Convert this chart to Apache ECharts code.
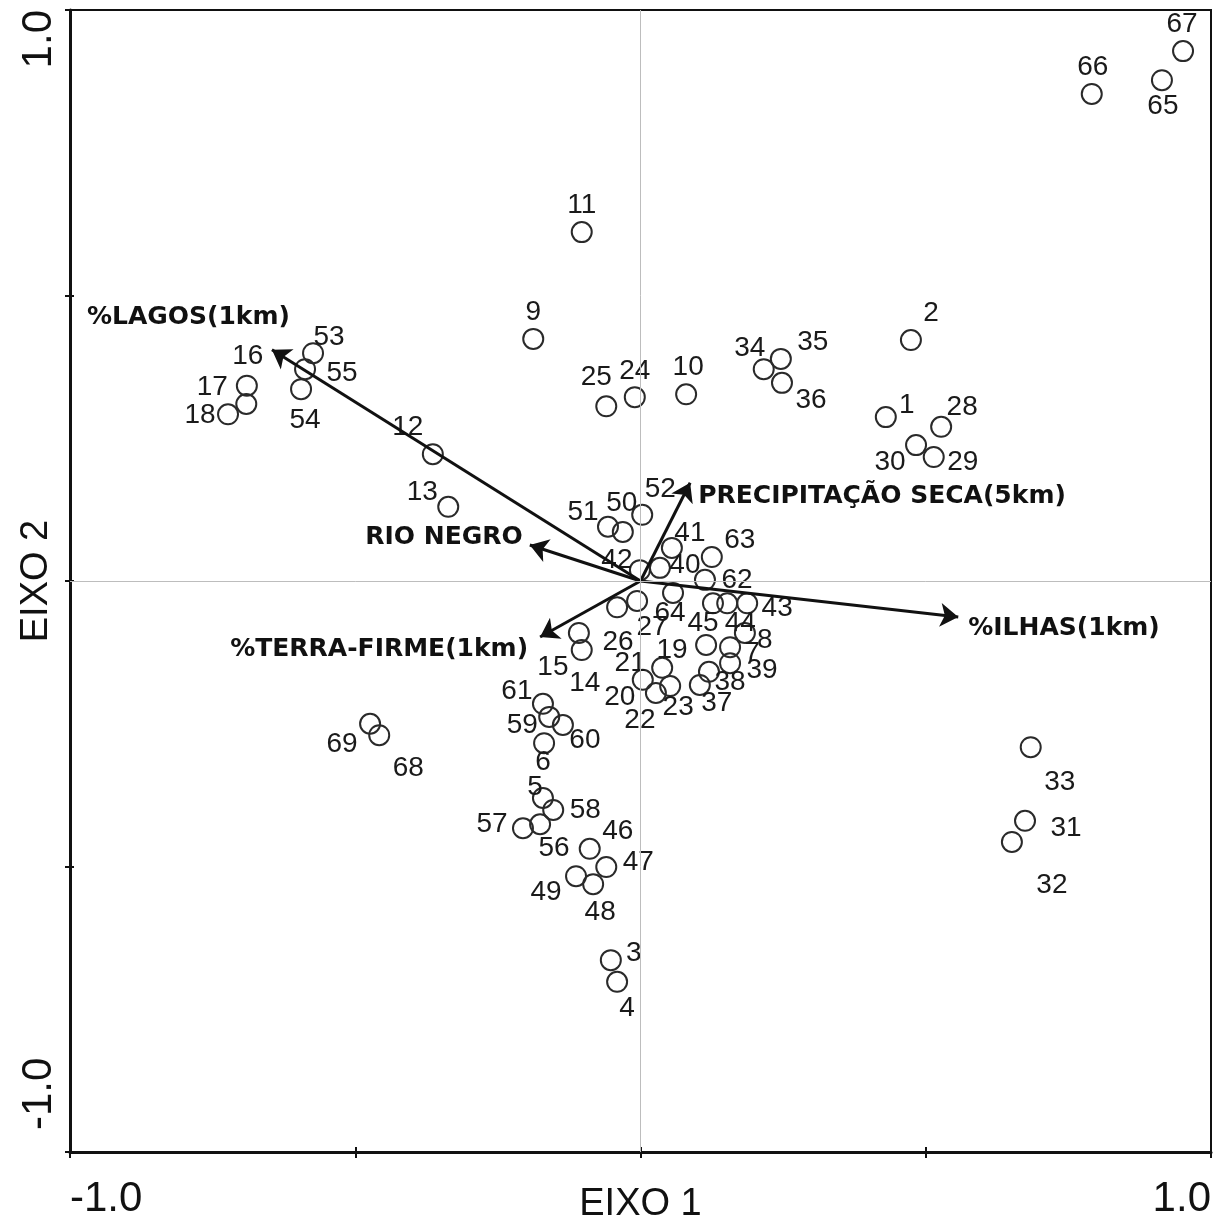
<!DOCTYPE html>
<html><head><meta charset="utf-8">
<script src="https://cdn.jsdelivr.net/npm/echarts@6/dist/echarts.min.js"></script>
<style>html,body{margin:0;padding:0;background:#fff}#chart{width:1228px;height:1230px}</style>
</head><body><div id="chart"></div>
<script>
// ---------- DATA ----------
const pointIds = [1,2,3,4,5,6,7,8,9,10,11,12,13,14,15,16,17,18,19,20,21,22,23,24,25,26,27,28,29,30,31,32,33,34,35,36,37,38,39,40,41,42,43,44,45,46,47,48,49,50,51,52,53,54,55,56,57,58,59,60,61,62,63,64,65,66,67,68,69];
const eixo1 = [0.430,0.474,-0.052,-0.041,-0.171,-0.169,0.157,0.183,-0.188,0.080,-0.103,-0.364,-0.337,-0.103,-0.108,-0.690,-0.691,-0.723,0.115,0.004,0.038,0.027,0.052,-0.010,-0.060,-0.041,-0.006,0.527,0.514,0.483,0.674,0.651,0.684,0.216,0.246,0.248,0.104,0.120,0.157,0.034,0.055,-0.001,0.187,0.152,0.127,-0.089,-0.060,-0.083,-0.113,-0.031,-0.057,0.003,-0.574,-0.595,-0.588,-0.176,-0.206,-0.153,-0.160,-0.136,-0.171,0.113,0.125,0.057,0.914,0.791,0.951,-0.458,-0.474];
const eixo2 = [0.287,0.422,-0.664,-0.702,-0.380,-0.284,-0.116,-0.091,0.424,0.327,0.611,0.222,0.130,-0.121,-0.091,0.342,0.310,0.292,-0.112,-0.173,-0.152,-0.196,-0.184,0.322,0.306,-0.046,-0.035,0.270,0.217,0.238,-0.420,-0.457,-0.291,0.371,0.389,0.347,-0.182,-0.159,-0.144,0.023,0.058,0.019,-0.039,-0.039,-0.039,-0.469,-0.501,-0.531,-0.517,0.086,0.095,0.116,0.399,0.336,0.371,-0.426,-0.433,-0.401,-0.238,-0.252,-0.215,0.002,0.042,-0.021,0.877,0.853,0.928,-0.270,-0.250];

const variableNames = ['%LAGOS(1km)','RIO NEGRO','%TERRA-FIRME(1km)','PRECIPITAÇÃO SECA(5km)','%ILHAS(1km)'];
const variableEixo1 = [-0.646,-0.194,-0.176,0.087,0.557];
const variableEixo2 = [0.405,0.063,-0.098,0.172,-0.063];

const tickValues = [-1,-0.5,0,0.5,1];
const tickLabels = ['-1.0','','','','1.0'];
const axisNames = ['EIXO 1','EIXO 2'];

// ---------- STYLE / PLACEMENT ----------
const labelOffsets = {
 1:[21,-12],2:[20,-27],3:[23,-7],4:[10,26],5:[-8,-11],6:[-1,19],7:[22,6],8:[20,7],9:[0,-27],10:[2,-27],
 11:[0,-27],12:[-25,-27],13:[-26,-14],14:[3,33],15:[-26,34],16:[1,-29],17:[-34,-17],18:[-28,1],19:[-34,5],20:[-23,17],
 21:[-32,-5],22:[-16,27],23:[8,21],24:[0,-26],25:[-10,-29],26:[1,35],27:[15,26],28:[21,-20],29:[29,5],30:[-26,17],
 31:[41,7],32:[40,43],33:[29,35],34:[-14,-21],35:[32,-17],36:[29,17],37:[17,18],38:[21,10],39:[32,7],40:[25,-3],
 41:[18,-15],42:[-23,-10],43:[30,5],44:[13,20],45:[-10,20],46:[28,-18],47:[32,-5],48:[7,28],49:[-30,16],50:[-1,-29],
 51:[-25,-14],52:[18,-25],53:[16,-16],54:[4,31],55:[37,4],56:[14,24],57:[-31,-4],58:[32,0],59:[-27,8],60:[22,15],
 61:[-26,-12],62:[32,0],63:[28,-17],64:[-3,20],65:[1,26],66:[1,-27],67:[-1,-27],68:[29,33],69:[-28,21]
};
const variableLabelPlacement = [
 {align:'right', offset:[18,-32]},
 {align:'right', offset:[-7,-8]},
 {align:'right', offset:[-12,13]},
 {align:'left', offset:[8,14]},
 {align:'left', offset:[10,12]}
];

const SANS = "'Liberation Sans',Arial,sans-serif";

function tickFmt(v){
  const i = tickValues.findIndex(t => Math.abs(t - v) < 1e-9);
  return i >= 0 ? tickLabels[i] : '';
}
function yTickFmt(v){
  const s = tickFmt(v);
  if (!s) return '';
  return v < 0 ? '{lo|' + s + '}' : '{hi|' + s + '}';
}

const axisBase = {
  type:'value', min:-1, max:1, interval:0.5,
  splitLine:{show:false}
};

const option = {
  animation:false,
  backgroundColor:'#fff',
  grid:{left:70, right:17, top:10, bottom:78, containLabel:false, outerBoundsMode:'none',
        show:true, borderColor:'#111', borderWidth:2, backgroundColor:'transparent'},
  xAxis:[
    Object.assign({}, axisBase, {
      position:'bottom',
      name:axisNames[0], nameLocation:'middle', nameGap:34, nameMoveOverlap:false,
      nameTextStyle:{fontFamily:SANS, fontSize:38, color:'#111', verticalAlign:'top'},
      axisLine:{show:true, onZero:false, lineStyle:{color:'#111', width:3}},
      axisTick:{show:true, inside:false, length:6, lineStyle:{color:'#111', width:2}},
      axisLabel:{show:true, formatter:tickFmt, margin:26, fontFamily:SANS, fontSize:42, color:'#111',
                 alignMinLabel:'left', alignMaxLabel:'right', showMinLabel:true, showMaxLabel:true, hideOverlap:false}
    }),
    Object.assign({}, axisBase, {
      position:'bottom',
      axisLine:{show:false, onZero:false},
      axisTick:{show:true, inside:true, length:5, lineStyle:{color:'#111', width:2}},
      axisLabel:{show:false}
    })
  ],
  yAxis:[
    Object.assign({}, axisBase, {
      position:'left',
      name:axisNames[1], nameLocation:'middle', nameGap:14, nameRotate:90, nameMoveOverlap:false,
      nameTextStyle:{fontFamily:SANS, fontSize:38, color:'#111', verticalAlign:'bottom'},
      axisLine:{show:true, onZero:false, lineStyle:{color:'#111', width:3}},
      axisTick:{show:true, inside:false, length:5, lineStyle:{color:'#111', width:2}},
      axisLabel:{show:true, formatter:yTickFmt, margin:10, rotate:90, fontFamily:SANS, fontSize:42, color:'#111',
                 alignMinLabel:'left', alignMaxLabel:'right', showMinLabel:true, showMaxLabel:true, hideOverlap:false,
                 rich:{
                   lo:{fontFamily:SANS, fontSize:42, color:'#111', padding:[0,0,0,22]},
                   hi:{fontFamily:SANS, fontSize:42, color:'#111'}
                 }}
    }),
    Object.assign({}, axisBase, {
      position:'left',
      axisLine:{show:false, onZero:false},
      axisTick:{show:true, inside:true, length:4, lineStyle:{color:'#111', width:2}},
      axisLabel:{show:false}
    })
  ],
  series:[
    {
      type:'scatter', name:'sites', z:2,
      symbol:'circle', symbolSize:20,
      itemStyle:{color:'rgba(0,0,0,0)', borderColor:'#2a2a2a', borderWidth:2, opacity:1},
      label:{show:true, formatter:'{b}', position:'inside', align:'center', verticalAlign:'middle',
             fontFamily:SANS, fontSize:28, color:'#1a1a1a', textBorderWidth:0},
      emphasis:{disabled:true},
      markLine:{
        silent:true, symbol:['none','none'], label:{show:false},
        lineStyle:{color:'#bdbdbd', width:1, type:'solid'},
        data:[{xAxis:0},{yAxis:0}]
      },
      data: pointIds.map((id,i)=>({
        name:String(id), value:[eixo1[i], eixo2[i]],
        label:{offset:labelOffsets[id]}
      }))
    },
    {
      type:'lines', coordinateSystem:'cartesian2d', z:3,
      symbol:['none','arrow'], symbolSize:18,
      lineStyle:{color:'#111', width:3, opacity:1, curveness:0},
      emphasis:{disabled:true},
      data: variableNames.map((n,i)=>({name:n, coords:[[0,0],[variableEixo1[i], variableEixo2[i]]]}))
    },
    {
      type:'scatter', name:'variables', z:4,
      symbol:'circle', symbolSize:1,
      itemStyle:{color:'rgba(0,0,0,0)', opacity:1},
      label:{show:true, formatter:'{b}', position:'inside', verticalAlign:'middle',
             fontFamily:"'DejaVu Sans',Verdana,sans-serif", fontWeight:'bold', fontSize:25, color:'#111', textBorderWidth:0},
      emphasis:{disabled:true},
      data: variableNames.map((n,i)=>({
        name:n, value:[variableEixo1[i], variableEixo2[i]],
        label:{align:variableLabelPlacement[i].align, offset:variableLabelPlacement[i].offset}
      }))
    }
  ]
};

const chart = echarts.init(document.getElementById('chart'), null, {renderer:'canvas'});
chart.setOption(option);
</script>
</body></html>
